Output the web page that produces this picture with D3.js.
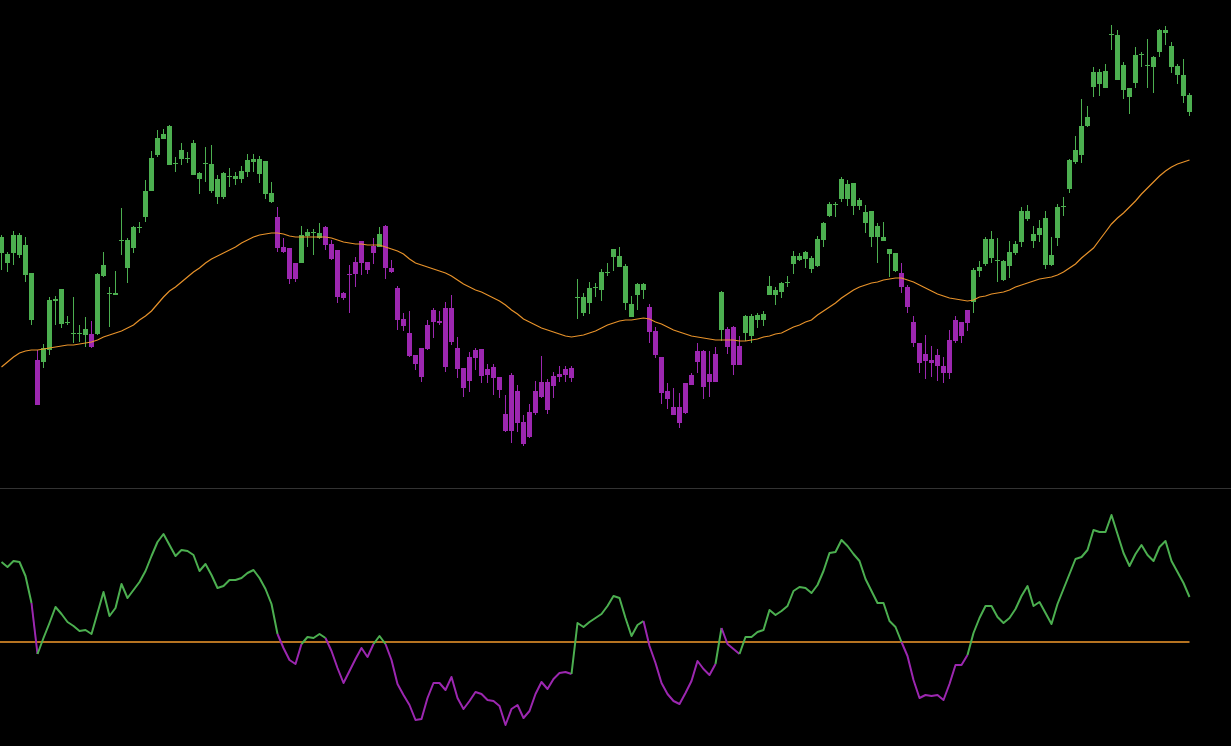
<!DOCTYPE html>
<html><head><meta charset="utf-8">
<script src="https://cdn.jsdelivr.net/npm/d3@7"></script>
<style>html,body{margin:0;padding:0;background:#000;overflow:hidden}</style>
</head><body><svg id="c" width="1231" height="746"></svg>
<script>
const opens=[247,237,247,245,225,180,140,138,150,199,
176,177,166,166,165,166,166,224,206,205,
259,232,252,272,283,309,345,361,335,336,
341,341,325,321,336,309,303,303,323,321,
321,328,338,326,306,298,283,253,252,237,
237,264,267,262,273,256,250,207,226,238,
259,238,254,253,274,232,212,181,167,145,
152,175,190,179,192,192,152,132,143,150,
151,131,133,123,86,125,109,78,88,109,
118,118,124,126,131,132,202,187,197,212,
210,227,243,233,197,183,205,210,193,169,
143,109,93,93,117,125,149,149,126,146,
170,171,173,154,167,164,180,180,205,205,
208,217,236,240,241,231,234,260,284,295,
301,301,294,294,277,263,263,259,246,229,
227,213,178,157,146,140,145,134,160,180,
178,190,198,229,236,242,239,220,234,247,
258,281,259,265,235,235,262,293,311,338,
345,374,413,416,412,465,420,410,403,417,
445,434,433,448,467,433,425,404,388];
const highs=[265,248,269,267,263,227,150,156,203,204,
211,184,203,175,183,179,227,248,213,229,
292,262,274,278,320,349,370,371,375,343,
357,348,360,328,353,355,325,328,332,328,
334,346,346,344,339,318,293,262,252,237,
274,271,271,277,274,260,250,208,235,243,
259,238,262,273,275,240,214,187,189,145,
152,180,192,189,198,205,163,132,148,152,
151,136,136,123,105,127,115,85,96,119,
144,121,128,134,134,134,221,207,218,217,
231,237,251,253,236,204,217,217,196,173,
143,117,112,107,117,127,157,150,149,153,
209,173,174,164,185,186,187,189,224,213,
218,224,249,247,249,244,264,278,298,298,
323,320,317,302,295,289,277,278,251,247,
237,215,184,157,165,154,151,143,170,184,
178,190,232,239,263,269,262,240,259,259,
293,295,274,280,289,263,296,303,341,364,
401,394,433,431,436,475,470,438,412,453,
448,461,444,471,474,458,436,441,407];
const lows=[230,228,235,242,218,175,95,132,145,175,
172,175,157,158,153,152,165,223,173,205,
245,217,247,267,278,309,343,361,335,328,
335,337,325,306,318,307,296,301,313,315,
317,323,328,317,301,297,248,247,216,218,
237,253,245,261,250,240,197,200,187,213,
225,226,236,253,221,227,170,169,143,130,
118,150,162,175,128,155,122,103,108,130,
117,117,105,102,68,57,68,54,62,85,
102,86,102,118,118,118,181,184,186,203,
199,224,229,233,190,183,190,201,157,142,
96,91,85,72,86,115,127,101,103,118,
159,146,125,135,159,157,172,174,205,195,
202,213,226,239,232,227,233,253,283,283,
298,294,285,290,267,253,237,259,223,228,
207,187,153,127,121,123,119,117,121,157,
157,169,187,223,234,237,218,219,222,245,
253,279,252,258,231,234,254,284,307,336,
337,373,403,404,412,450,420,401,386,412,
433,412,407,443,455,427,416,397,384];
const closes=[263,246,265,265,255,227,95,152,200,201,
211,178,167,167,171,153,226,235,207,207,
260,260,273,273,309,342,362,366,374,337,
350,342,357,327,337,336,321,327,324,324,
329,340,341,341,339,307,252,248,221,221,
265,268,268,267,255,241,203,202,225,226,
237,230,247,266,232,228,180,174,144,136,
123,151,178,177,133,158,131,112,119,142,
124,125,122,110,69,69,77,56,63,87,
103,90,114,123,125,122,203,203,212,213,
228,228,251,244,234,196,216,216,168,145,
107,101,85,77,87,115,138,113,118,118,
208,153,135,135,184,184,185,186,214,210,
217,218,244,244,248,242,261,277,296,296,
321,316,317,300,288,289,274,263,251,247,
213,193,157,137,139,137,134,127,127,159,
164,177,230,233,261,261,240,239,248,256,
289,289,266,272,282,245,293,294,340,350,
374,383,428,428,429,466,465,435,412,445,
446,435,443,470,470,454,434,425,405];
const ma=[133,138,143,147,149,150,150,151,152,153,
154,155,155,156,157,158,160,163,165,167,
169,172,175,180,184,189,196,203,209,213,
218,223,228,232,237,241,244,247,250,253,
257,260,263,265,266,267,267,266,264,263,
263,263,263,263,263,262,260,258,257,256,
256,255,255,255,253,251,249,246,241,237,
235,233,231,229,227,224,220,216,213,210,
208,205,202,199,195,190,186,181,178,175,
172,170,168,166,164,163,164,165,167,169,
172,175,177,179,180,180,181,182,181,178,
176,173,170,168,166,164,163,162,161,160,
160,160,160,159,159,160,161,163,164,166,
167,170,173,175,178,180,185,189,193,197,
202,206,210,213,215,217,218,220,221,222,
222,220,218,215,212,209,206,204,202,201,
200,199,200,203,204,206,207,208,210,213,
215,217,219,221,222,223,225,228,232,236,
242,247,252,260,268,276,282,287,293,299,
306,312,318,324,329,333,336,338,340];
const osc=[80,75,81,80,66,39,-12,4,19,35,
28,20,16,11,12,8,29,50,26,34,
58,44,52,60,71,86,100,108,97,86,
92,91,87,71,78,67,54,56,62,62,
64,69,72,64,53,38,8,-6,-18,-22,
-2,5,4,8,4,-9,-26,-41,-29,-17,
-6,-15,-2,6,-2,-18,-42,-53,-63,-78,
-77,-56,-41,-41,-48,-35,-56,-67,-59,-50,
-52,-58,-59,-64,-83,-67,-63,-76,-69,-52,
-40,-47,-37,-31,-30,-32,19,15,20,24,
28,36,46,44,24,6,17,21,-4,-21,
-41,-52,-59,-62,-51,-39,-19,-27,-33,-22,
14,-2,-7,-12,5,5,10,12,32,27,
31,36,51,55,54,49,57,71,89,90,
102,96,88,81,63,51,39,39,21,15,
0,-14,-38,-56,-53,-54,-53,-58,-42,-23,
-23,-13,9,24,36,36,25,19,24,33,
46,56,36,40,29,18,38,53,68,83,
85,92,112,110,110,127,108,89,76,88,
97,87,81,95,101,81,70,59,45];
// index spans of the oscillator drawn in the bearish colour
const oscDownSpans=[[5,6],[46,50],[54,62],[64,95],[107,119],[120,123],[150,161]];

const W=1231,H=746;
const UP="#4caf50", DOWN="#9c27b0", ORANGE="#f39a2c";
const svg=d3.select("#c");
svg.append("rect").attr("width",W).attr("height",H).attr("fill","#000");

const n=closes.length;
const x=d3.scaleLinear().domain([0,n-1]).range([1.5,1189.5]);
const yP=d3.scaleLinear().domain([12,500]).range([488,0]);
const yO=d3.scaleLinear().domain([-104,154]).range([746,488]);

const bars=d3.range(n).map(i=>({i,o:opens[i],h:highs[i],l:lows[i],c:closes[i]}));
const col=d=>d.c>=d.o?UP:DOWN;

const gC=svg.append("g");
gC.selectAll("line.w").data(bars).join("line").attr("class","w")
  .attr("x1",d=>x(d.i)).attr("x2",d=>x(d.i))
  .attr("y1",d=>yP(d.h)).attr("y2",d=>yP(d.l))
  .attr("stroke",col).attr("stroke-width",1);
gC.selectAll("rect.b").data(bars).join("rect").attr("class","b")
  .attr("x",d=>x(d.i)-2.5).attr("width",5)
  .attr("y",d=>yP(Math.max(d.o,d.c)))
  .attr("height",d=>Math.max(1,Math.abs(yP(d.o)-yP(d.c))))
  .attr("fill",col);

svg.append("path").datum(ma)
  .attr("d",d3.line().x((d,i)=>x(i)).y(d=>yP(d)))
  .attr("fill","none").attr("stroke",ORANGE).attr("stroke-width",1.2).attr("opacity",0.95);

// separator
svg.append("line").attr("x1",0).attr("x2",W).attr("y1",488.5).attr("y2",488.5)
  .attr("stroke","#333").attr("stroke-width",1);

// zero line
svg.append("line").attr("x1",0).attr("x2",x(n-1)).attr("y1",yO(0)).attr("y2",yO(0))
  .attr("stroke",ORANGE).attr("stroke-width",1.3);

// oscillator segments grouped into runs
const isDown=s=>oscDownSpans.some(([a,b])=>s>=a && s+1<=b);
const runs=[];
for(let s=0;s<n-1;s++){
  const dn=isDown(s);
  if(runs.length && runs[runs.length-1].dn===dn) runs[runs.length-1].end=s+1;
  else runs.push({dn,start:s,end:s+1});
}
const oline=d3.line().x(i=>x(i)).y(i=>yO(osc[i]));
svg.append("g").selectAll("path").data(runs).join("path")
  .attr("d",r=>oline(d3.range(r.start,r.end+1)))
  .attr("fill","none").attr("stroke",r=>r.dn?DOWN:UP)
  .attr("stroke-width",2).attr("stroke-linejoin","round");
</script></body></html>
